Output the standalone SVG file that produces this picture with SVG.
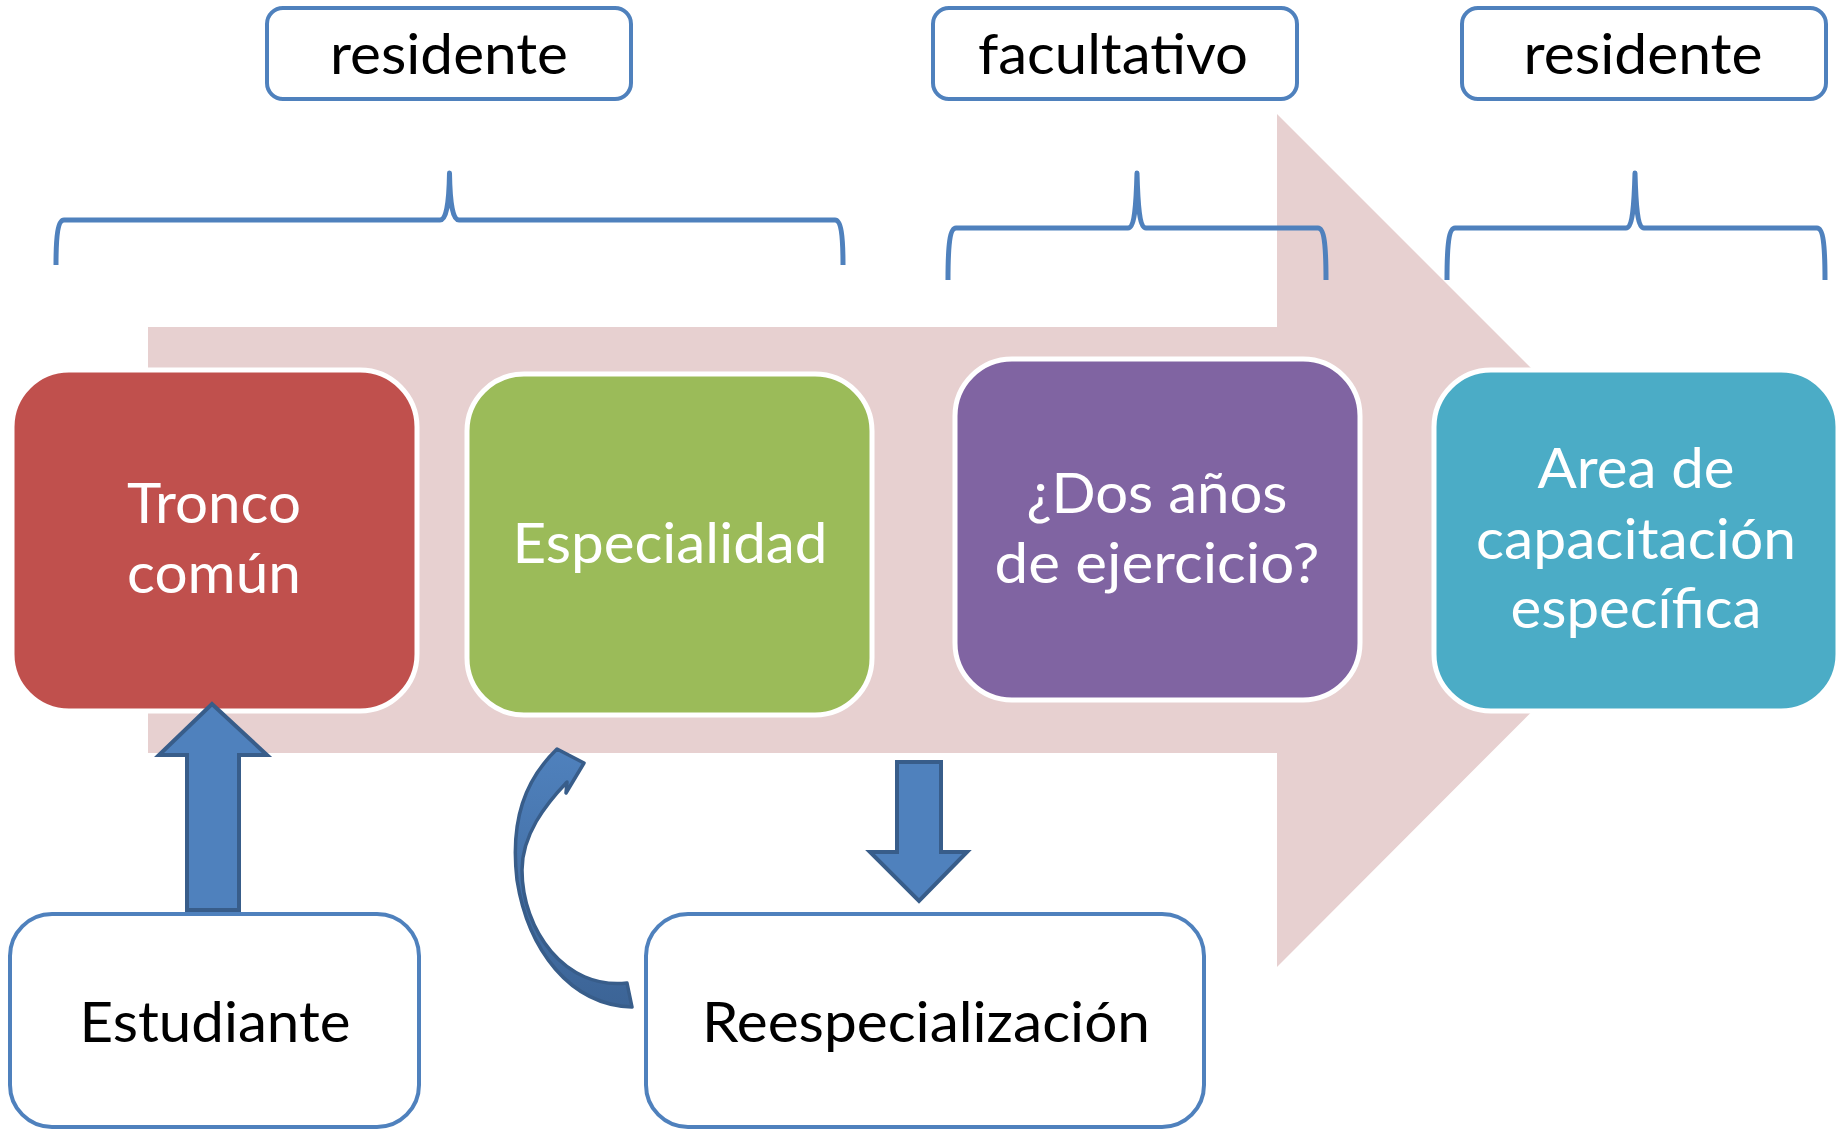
<svg xmlns="http://www.w3.org/2000/svg" width="1845" height="1132" viewBox="0 0 1845 1132">
<style>
.lbl{fill:#fff;stroke:#4F81BD;stroke-width:4}
.brace{fill:none;stroke:#4F81BD;stroke-width:5;stroke-linejoin:round}
.stage{stroke:#fff;stroke-width:5}
.wt{font-family:Lato,"Open Sans","Liberation Sans",sans-serif;font-size:57px;fill:#fff;text-anchor:middle}
.bt{font-family:Lato,"Open Sans","Liberation Sans",sans-serif;font-size:57px;fill:#000;text-anchor:middle}
.blk{fill:#4F81BD;stroke:#385D8A;stroke-width:4;stroke-linejoin:miter}
</style>
<defs>
<linearGradient id="cg" x1="0" y1="0" x2="0" y2="1">
<stop offset="0" stop-color="#4F81BD"/>
<stop offset="1" stop-color="#3C6496"/>
</linearGradient>
</defs>
<rect width="1845" height="1132" fill="#fff"/>
<g id="flow-arrow">
<polygon points="148,327 1277,327 1277,114 1703,540 1277,967 1277,753 148,753" fill="#E7D0D0"/>
</g>
<g id="braces">
<path class="brace" d="M56,265 C56,236 58,220 64,220 L440,220 C446,220 449,205 449.5,173 C450,205 453,220 459,220 L835,220 C841,220 843,236 843,265"/>
<path class="brace" d="M948,280 C948,244 950,228 956,228 L1128,228 C1134,228 1136,210 1137,173 C1138,210 1140,228 1146,228 L1318,228 C1324,228 1326,244 1326,280"/>
<path class="brace" d="M1447,280 C1447,244 1449,228 1455,228 L1626,228 C1632,228 1634,210 1635,173 C1636,210 1638,228 1644,228 L1817,228 C1823,228 1825,244 1825,280"/>
</g>
<g id="label-residente-1">
<rect class="lbl" x="267" y="8" width="364" height="91" rx="16"/>
<text class="bt" x="449" y="74" textLength="238" lengthAdjust="spacingAndGlyphs">residente</text>
</g>
<g id="label-facultativo">
<rect class="lbl" x="933" y="8" width="364" height="91" rx="16"/>
<text class="bt" x="1113" y="74" textLength="270" lengthAdjust="spacingAndGlyphs">facultativo</text>
</g>
<g id="label-residente-2">
<rect class="lbl" x="1462" y="8" width="364" height="91" rx="16"/>
<text class="bt" x="1643" y="74" textLength="239" lengthAdjust="spacingAndGlyphs">residente</text>
</g>
<g id="tronco">
<rect class="stage" x="12" y="370" width="405" height="341" rx="57" fill="#C0504D"/>
<text class="wt" x="214" y="523" textLength="174" lengthAdjust="spacingAndGlyphs">Tronco</text>
<text class="wt" x="214" y="593" textLength="174" lengthAdjust="spacingAndGlyphs">común</text>
</g>
<g id="especialidad">
<rect class="stage" x="467" y="374" width="405" height="341" rx="57" fill="#9BBB59"/>
<text class="wt" x="670" y="563" textLength="315" lengthAdjust="spacingAndGlyphs">Especialidad</text>
</g>
<g id="dos-anos">
<rect class="stage" x="955" y="359" width="405" height="341" rx="57" fill="#8064A2"/>
<text class="wt" x="1157" y="513" textLength="261" lengthAdjust="spacingAndGlyphs">¿Dos años</text>
<text class="wt" x="1157" y="583" textLength="325" lengthAdjust="spacingAndGlyphs">de ejercicio?</text>
</g>
<g id="area">
<rect class="stage" x="1434" y="370" width="404" height="341" rx="57" fill="#4BACC6"/>
<text class="wt" x="1636" y="488" textLength="197" lengthAdjust="spacingAndGlyphs">Area de</text>
<text class="wt" x="1636" y="559" textLength="320" lengthAdjust="spacingAndGlyphs">capacitación</text>
<text class="wt" x="1636" y="628" textLength="251" lengthAdjust="spacingAndGlyphs">específica</text>
</g>
<g id="connectors">
<polygon class="blk" points="187,910 239,910 239,755 267,755 212,704 159,755 187,755"/>
<polygon class="blk" points="897,762 941,762 941,852 967,852 919,901 870,852 897,852"/>
<path d="M627,983 L632,1007 C570,1005 528,950 517,880 C510,820 525,780 557,749 L584,763 L566,793 L567,782 C545,805 522,835 522,870 C522,930 565,990 627,983 Z" fill="url(#cg)" stroke="#385D8A" stroke-width="3.5" stroke-linejoin="round"/>
</g>
<g id="estudiante">
<rect class="lbl" x="10" y="914" width="409" height="213" rx="42"/>
<text class="bt" x="215" y="1042" textLength="271" lengthAdjust="spacingAndGlyphs">Estudiante</text>
</g>
<g id="reespecializacion">
<rect class="lbl" x="646" y="914" width="558" height="213" rx="42"/>
<text class="bt" x="926" y="1042" textLength="448" lengthAdjust="spacingAndGlyphs">Reespecialización</text>
</g>
</svg>
